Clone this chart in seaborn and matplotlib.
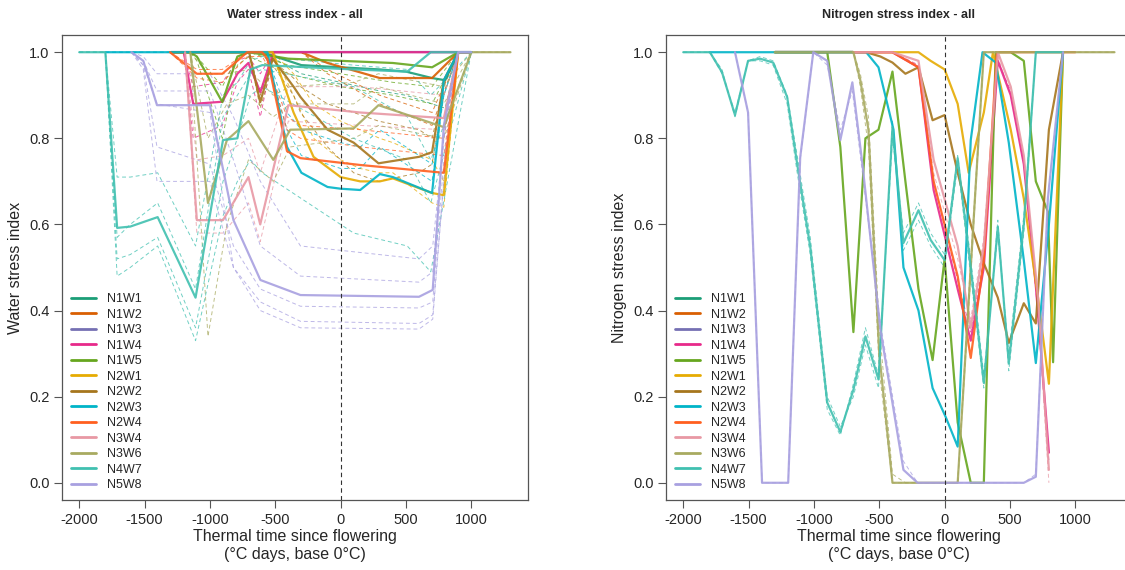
import matplotlib
matplotlib.use("Agg")
import pandas as pd
import matplotlib.pyplot as plt
import seaborn as sns
from matplotlib.lines import Line2D

# treatments and colours
treatments = ["N1W1", "N1W2", "N1W3", "N1W4", "N1W5", "N2W1", "N2W2",
              "N2W3", "N2W4", "N3W4", "N3W6", "N4W7", "N5W8"]
colors = ["#1B9E77", "#D95F02", "#7570B3", "#E7298A", "#66A61E", "#E6AB02",
          "#A6761D", "#00B4C8", "#FF5F1F", "#E898A4", "#A8AA60", "#40C0B0",
          "#A8A0E0"]

# ---------------- water stress (left) ----------------
ws_x_N1W1 = [-1300, -600, -300, 0, 300, 500, 700, 800, 900, 1000]
ws_y_N1W1 = [1, 1, 0.97, 0.965, 0.96, 0.955, 0.94, 0.935, 1, 1]
ws_r_N1W1 = [[1, 1, 0.95, 0.93, 0.91, 0.90, 0.88, 0.87, 1, 1]]

ws_x_N1W2 = [-1300, -300, -100, 300, 700, 900, 1000]
ws_y_N1W2 = [1, 1, 0.975, 0.94, 0.94, 1, 1]
ws_r_N1W2 = [[1, 1, 0.96, 0.90, 0.86, 1, 1], [1, 1, 0.95, 0.88, 0.83, 1, 1]]

ws_x_N1W3 = [-1300, 1000]
ws_y_N1W3 = [1, 1]
ws_r_N1W3 = []

ws_x_N1W4 = [-1300, -1200, -1128, -905, -790, -706, -614, -514, -400, 0, 1000]
ws_y_N1W4 = [1, 1, 0.88, 0.885, 0.95, 0.975, 0.907, 1, 1, 1, 1]
ws_r_N1W4 = [[1, 1, 0.80, 0.83, 0.93, 0.96, 0.85, 1, 1, 1, 1],
             [1, 1, 0.92, 0.93, 0.98, 0.99, 0.95, 1, 1, 1, 1]]

ws_x_N1W5 = [-1300, -1150, -1100, -905, -790, -700, -400, 0, 400, 700, 900, 1000]
ws_y_N1W5 = [1, 1, 0.99, 0.884, 0.99, 1.0, 0.985, 0.98, 0.975, 0.965, 1, 1]
ws_r_N1W5 = [[1, 1, 0.98, 0.80, 0.97, 0.99, 0.95, 0.92, 0.90, 0.88, 1, 1],
             [1, 1, 0.99, 0.92, 0.99, 1.0, 0.97, 0.95, 0.93, 0.92, 1, 1]]

ws_x_N2W1 = [-1300, -520, -360, -207, 0, 150, 300, 400, 700, 790, 900, 1000]
ws_y_N2W1 = [1, 1, 0.86, 0.757, 0.71, 0.70, 0.70, 0.707, 0.673, 0.668, 1, 1]
ws_r_N2W1 = [[1, 1, 0.90, 0.80, 0.75, 0.73, 0.72, 0.72, 0.65, 0.64, 1, 1],
             [1, 1, 0.95, 0.88, 0.84, 0.82, 0.80, 0.79, 0.75, 0.70, 1, 1]]

ws_x_N2W2 = [-1300, -700, -615, -520, -360, -307, -100, 100, 290, 600, 700, 790, 900, 1000]
ws_y_N2W2 = [1, 1, 0.884, 0.985, 0.92, 0.896, 0.82, 0.79, 0.742, 0.757, 0.768, 0.935, 1, 1]
ws_r_N2W2 = [[1, 1, 0.90, 0.98, 0.94, 0.92, 0.88, 0.86, 0.84, 0.82, 0.80, 0.92, 1, 1],
             [1, 1, 0.87, 0.97, 0.90, 0.86, 0.78, 0.72, 0.70, 0.72, 0.74, 0.90, 1, 1]]

ws_x_N2W3 = [-1800, -600, -560, -410, -300, -100, 0, 150, 300, 400, 700, 790, 900, 1000]
ws_y_N2W3 = [1, 1, 1.0, 0.78, 0.72, 0.687, 0.683, 0.68, 0.717, 0.71, 0.673, 0.935, 1, 1]
ws_r_N2W3 = [[1, 1, 0.98, 0.82, 0.76, 0.74, 0.73, 0.73, 0.78, 0.76, 0.70, 0.90, 1, 1],
             [1, 1, 0.99, 0.86, 0.82, 0.80, 0.79, 0.78, 0.82, 0.80, 0.74, 0.90, 1, 1]]

ws_x_N2W4 = [-1305, -1100, -905, -714, -600, -560, -410, -307, 153, 790, 900, 1000]
ws_y_N2W4 = [1, 0.95, 0.95, 1.0, 1.0, 0.985, 0.77, 0.754, 0.738, 0.72, 1, 1]
ws_r_N2W4 = [[1, 0.96, 0.96, 1.0, 1.0, 0.98, 0.82, 0.80, 0.78, 0.76, 1, 1],
             [1, 0.94, 0.93, 0.99, 0.99, 0.97, 0.85, 0.83, 0.82, 0.80, 1, 1]]

ws_x_N3W4 = [-1190, -1100, -900, -705, -615, -400, 150, 790, 900, 1000]
ws_y_N3W4 = [1, 0.61, 0.61, 0.71, 0.60, 0.877, 0.86, 0.847, 1, 1]
ws_r_N3W4 = [[1, 0.58, 0.58, 0.65, 0.56, 0.84, 0.83, 0.82, 1, 1],
             [1, 0.75, 0.76, 0.80, 0.72, 0.92, 0.92, 0.90, 1, 1]]

ws_x_N3W6 = [-1150, -1015, -870, -705, -515, -385, 100, 290, 790, 1000, 1300]
ws_y_N3W6 = [1, 0.65, 0.796, 0.84, 0.75, 0.82, 0.823, 0.877, 0.826, 1, 1]
ws_r_N3W6 = [[1, 0.34, 0.60, 0.75, 0.70, 0.78, 0.80, 0.83, 0.80, 1, 1],
             [1, 0.80, 0.88, 0.90, 0.85, 0.88, 0.88, 0.92, 0.88, 1, 1],
             [1, 0.95, 0.95, 0.96, 0.90, 0.92, 0.93, 0.95, 0.92, 1, 1]]

ws_x_N4W7 = [-2000, -1800, -1710, -1610, -1400, -1110, -900, -790, -690, -600, 100, 510, 690, 1000]
ws_y_N4W7 = [1, 1, 0.592, 0.595, 0.617, 0.43, 0.796, 0.80, 0.96, 0.97, 0.96, 0.955, 1, 1]
ws_r_N4W7 = [[1, 1, 0.48, 0.50, 0.55, 0.33, 0.62, 0.70, 0.75, 0.72, 0.58, 0.55, 0.49, 1],
             [1, 1, 0.52, 0.53, 0.57, 0.36, 0.70, 0.80, 0.90, 0.92, 0.80, 0.75, 0.65, 1],
             [1, 1, 0.57, 0.60, 0.65, 0.45, 0.85, 0.90, 0.95, 0.96, 0.92, 0.85, 0.75, 1],
             [1, 1, 0.71, 0.71, 0.72, 0.55, 0.90, 0.93, 0.98, 0.99, 0.97, 0.96, 0.90, 1]]

ws_x_N5W8 = [-1600, -1510, -1405, -1000, -820, -614, -307, 600, 705, 790, 900, 1000]
ws_y_N5W8 = [1, 0.98, 0.877, 0.877, 0.61, 0.471, 0.436, 0.432, 0.448, 0.83, 1, 1]
ws_r_N5W8 = [[1, 0.99, 0.95, 0.95, 0.85, 0.70, 0.55, 0.52, 0.55, 0.80, 1, 1],
             [1, 0.98, 0.91, 0.91, 0.75, 0.55, 0.48, 0.466, 0.49, 0.80, 1, 1],
             [1, 0.97, 0.78, 0.74, 0.55, 0.45, 0.41, 0.406, 0.42, 0.75, 1, 1],
             [1, 0.96, 0.70, 0.70, 0.50, 0.42, 0.375, 0.37, 0.39, 0.70, 1, 1],
             [1, 0.97, 0.88, 0.86, 0.50, 0.40, 0.36, 0.357, 0.38, 0.70, 1, 1]]

# ---------------- nitrogen stress (right) ----------------
ns_x_N1W1 = [-1300, -700]
ns_y_N1W1 = [1, 1]
ns_r_N1W1 = []
ns_x_N1W2 = [-1300, -700]
ns_y_N1W2 = [1, 1]
ns_r_N1W2 = []
ns_x_N1W3 = [-1300, -700]
ns_y_N1W3 = [1, 1]
ns_r_N1W3 = []

ns_x_N1W4 = [-700, -400, -200, -84, 100, 200, 300, 407, 506, 606, 700, 798]
ns_y_N1W4 = [1, 1, 0.965, 0.68, 0.45, 0.33, 0.50, 0.98, 0.90, 0.74, 0.45, 0.07]
ns_r_N1W4 = [[1, 1, 0.97, 0.70, 0.47, 0.35, 0.52, 0.98, 0.91, 0.75, 0.44, 0.05]]

ns_x_N1W5 = [-1300, -898, -798, -698, -606, -506, -399, -300, -200, -92, 0, 100,
             200, 300, 391, 506, 606, 698, 790, 830, 906]
ns_y_N1W5 = [1, 1, 0.78, 0.35, 0.80, 0.82, 0.955, 0.70, 0.45, 0.285, 0.52, 0.14,
             0.0, 0.0, 1.0, 1.0, 0.98, 0.70, 0.63, 0.28, 1.0]
ns_r_N1W5 = []

ns_x_N2W1 = [-600, -200, -107, 0, 100, 184, 300, 370, 506, 606, 715, 798, 906]
ns_y_N2W1 = [1, 1, 0.98, 0.96, 0.88, 0.72, 0.86, 1.0, 0.82, 0.66, 0.43, 0.23, 1.0]
ns_r_N2W1 = []

ns_x_N2W2 = [-1300, -600, -491, -399, -300, -200, -92, 0, 100, 200, 300, 407, 491,
             606, 698, 798, 906]
ns_y_N2W2 = [1, 1, 0.99, 0.976, 0.95, 0.965, 0.842, 0.854, 0.72, 0.60, 0.51, 0.43,
             0.325, 0.417, 0.37, 0.82, 1.0]
ns_r_N2W2 = []

ns_x_N2W3 = [-1800, -600, -506, -391, -315, -200, -92, 8, 100, 200, 290, 391, 491,
             606, 698, 798, 906]
ns_y_N2W3 = [1, 1, 0.965, 0.82, 0.50, 0.40, 0.22, 0.153, 0.084, 0.796, 1.0, 0.976,
             0.79, 0.517, 0.278, 0.60, 1.0]
ns_r_N2W3 = []

ns_x_N2W4 = [-700, -400, -200, -84, 100, 200, 300, 400, 1000]
ns_y_N2W4 = [1, 1, 0.965, 0.70, 0.48, 0.29, 0.52, 1.0, 1.0]
ns_r_N2W4 = []

ns_x_N3W4 = [-700, -400, -200, -84, 100, 200, 300, 407, 506, 606, 715, 798]
ns_y_N3W4 = [1, 1, 0.98, 0.75, 0.55, 0.36, 0.55, 1.0, 0.92, 0.76, 0.43, 0.03]
ns_r_N3W4 = [[1, 1, 0.97, 0.72, 0.52, 0.38, 0.57, 0.99, 0.90, 0.74, 0.40, 0.0]]

ns_x_N3W6 = [-1300, -698, -645, -583, -500, -399, -300, -200, 100, 200, 300, 1300]
ns_y_N3W6 = [1, 1, 0.935, 0.82, 0.30, 0.0, 0.0, 0.0, 0.0, 0.50, 1.0, 1.0]
ns_r_N3W6 = [[1, 1, 0.95, 0.85, 0.36, 0.02, 0.0, 0.0, 0.0, 0.48, 1.0, 1.0],
             [1, 1, 0.92, 0.78, 0.26, 0.0, 0.0, 0.0, 0.0, 0.52, 1.0, 1.0]]

ns_x_N4W7 = [-2000, -1796, -1704, -1604, -1504, -1412, -1312, -1205, -1128, -1028,
             -898, -798, -698, -606, -506, -399, -315, -200, -107, 0, 100, 200,
             300, 407, 491, 606, 698, 906]
ns_y_N4W7 = [1, 1, 0.954, 0.854, 0.98, 0.985, 0.976, 0.896, 0.74, 0.548,
             0.186, 0.118, 0.216, 0.34, 0.24, 0.826, 0.557, 0.633, 0.564, 0.517,
             0.754, 0.50, 0.232, 0.594, 0.278, 0.60, 1.0, 1.0]
ns_r_N4W7 = [[1, 1, 0.95, 0.86, 0.98, 0.98, 0.97, 0.88, 0.72, 0.53,
              0.17, 0.11, 0.23, 0.36, 0.25, 0.80, 0.58, 0.65, 0.58, 0.53,
              0.76, 0.52, 0.25, 0.58, 0.30, 0.62, 1.0, 1.0],
             [1, 1, 0.96, 0.85, 0.98, 0.99, 0.98, 0.90, 0.76, 0.57,
              0.20, 0.13, 0.20, 0.32, 0.22, 0.84, 0.54, 0.61, 0.55, 0.50,
              0.74, 0.48, 0.22, 0.61, 0.26, 0.58, 1.0, 1.0]]

ns_x_N5W8 = [-1604, -1504, -1397, -1197, -1105, -1005, -898, -798, -706, -629, -491,
             -315, -207, 606, 698, 790, 906]
ns_y_N5W8 = [1, 0.86, 0.0, 0.0, 0.756, 1.0, 0.98, 0.796, 0.93, 0.74, 0.355,
             0.03, 0.0, 0.0, 0.014, 0.66, 1.0]
ns_r_N5W8 = [[1, 0.86, 0.0, 0.0, 0.75, 1.0, 0.97, 0.82, 0.91, 0.72, 0.37,
              0.05, 0.0, 0.0, 0.02, 0.66, 1.0]]


def build(prefix):
    mean_rows, rep_rows = [], []
    for t in treatments:
        xs = globals()[prefix + "_x_" + t]
        ys = globals()[prefix + "_y_" + t]
        for x, y in zip(xs, ys):
            mean_rows.append({"trt": t, "x": x, "y": y})
        for k, rep in enumerate(globals()[prefix + "_r_" + t]):
            for x, y in zip(xs, rep):
                rep_rows.append({"trt": t, "rep": t + str(k), "x": x, "y": y})
    return pd.DataFrame(mean_rows), pd.DataFrame(rep_rows)


sns.set_style("ticks")
plt.rcParams["font.family"] = ["Liberation Sans", "DejaVu Sans"]
plt.rcParams["axes.unicode_minus"] = False

pal = dict(zip(treatments, colors))

fig = plt.figure(figsize=(11.25, 5.7), dpi=100)
ax1 = fig.add_axes([0.0551, 0.1228, 0.414, 0.8158])
ax2 = fig.add_axes([0.592, 0.1228, 0.414, 0.8158])

panels = [(ax1, "ws", "Water stress index - all", "Water stress index"),
          (ax2, "ns", "Nitrogen stress index - all", "Nitrogen stress index")]

for ax, prefix, title, ylab in panels:
    means, reps = build(prefix)
    sns.lineplot(data=reps, x="x", y="y", hue="trt", units="rep", estimator=None,
                 sort=False, palette=pal, hue_order=treatments, ax=ax, legend=False,
                 linewidth=0.7, linestyle=(0, (4, 3)), alpha=0.75)
    sns.lineplot(data=means, x="x", y="y", hue="trt", units="trt", estimator=None,
                 sort=False, palette=pal, hue_order=treatments, ax=ax, legend=False,
                 linewidth=1.6, alpha=0.9)
    ax.axvline(0, color="#333333", linestyle=(0, (4, 3)), linewidth=0.8)
    ax.set_xlim(-2132, 1432)
    ax.set_ylim(-0.04, 1.04)
    ax.set_xticks([-2000, -1500, -1000, -500, 0, 500, 1000])
    ax.set_yticks([0.0, 0.2, 0.4, 0.6, 0.8, 1.0])
    ax.set_yticklabels(["0.0", "0.2", "0.4", "0.6", "0.8", "1.0"])
    ax.tick_params(labelsize=10.5, length=6, width=0.8, color="#555555", pad=3)
    for s in ax.spines.values():
        s.set_visible(True)
        s.set_color("#555555")
        s.set_linewidth(0.9)
    ax.set_title(title, fontsize=9, fontweight="bold", pad=12)
    ax.set_xlabel("Thermal time since flowering\n(°C days, base 0°C)", fontsize=11.5,
                  linespacing=1.25, labelpad=2)
    ax.set_ylabel(ylab, fontsize=11.5, labelpad=4)
    handles = [Line2D([], [], color=c, linewidth=2) for c in colors]
    ax.legend(handles, treatments, loc="lower left", frameon=False, fontsize=9,
              handlelength=2.0, handletextpad=0.9, labelspacing=0.28,
              borderaxespad=0.3)

fig.savefig("out.png", dpi=100)
